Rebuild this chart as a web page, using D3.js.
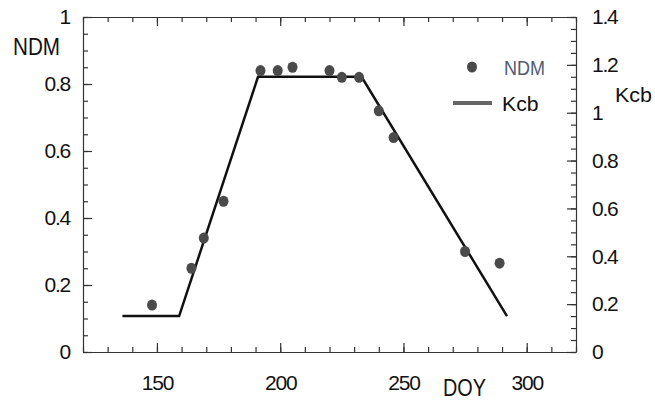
<!DOCTYPE html>
<html>
<head>
<meta charset="utf-8">
<title></title>
<style>
  body { margin: 0; background: #fff; }
  text { font-family: "Liberation Sans", Arial, sans-serif; fill: #111; }
  .axis path, .axis line { stroke: #333; stroke-width: 1.2px; }
  .axis text { font-size: 21px; letter-spacing: -1.2px; fill: #111; }
</style>
</head>
<body>
<script src="https://cdn.jsdelivr.net/npm/d3@7"></script>
<script>
// measured NDM points
var ndmDoy = [148, 164, 169, 177, 192, 199, 205, 220, 225, 232, 240, 246, 275, 289];
var ndmVal = [0.14, 0.25, 0.34, 0.45, 0.84, 0.84, 0.85, 0.84, 0.82, 0.82, 0.72, 0.64, 0.30, 0.265];
// Kcb crop curve (right axis)
var kcbDoy = [136, 159, 191, 233, 292];
var kcbVal = [0.15, 0.15, 1.15, 1.15, 0.15];

var xTicks = [150, 200, 250, 300];
var xMinor = d3.range(120, 321, 10);
var ndmTicks = [0, 0.2, 0.4, 0.6, 0.8, 1];
var kcbTicks = [0, 0.2, 0.4, 0.6, 0.8, 1, 1.2, 1.4];

var width = 655, height = 400;
var padL = 83, padR = 576, padT = 17, padB = 352;

var svg = d3.select("body").append("svg")
    .attr("width", width)
    .attr("height", height);

var x = d3.scaleLinear().domain([120, 320]).range([padL, padR]);
var y = d3.scaleLinear().domain([0, 1]).range([padB, padT]);
var yK = d3.scaleLinear().domain([0, 1.4]).range([padB, padT]);

var fmt = d3.format(".1~f");

// minor ticks first
svg.append("g").attr("class", "axis").attr("transform", "translate(0," + padB + ")")
    .call(d3.axisBottom(x).tickValues(xMinor).tickSize(-5).tickSizeOuter(0).tickFormat(""))
    .select(".domain").remove();
svg.append("g").attr("class", "axis").attr("transform", "translate(0," + padT + ")")
    .call(d3.axisTop(x).tickValues(xMinor).tickSize(-5).tickSizeOuter(0).tickFormat(""))
    .select(".domain").remove();
svg.append("g").attr("class", "axis").attr("transform", "translate(" + padL + ",0)")
    .call(d3.axisLeft(y).tickValues(d3.range(0, 1.001, 0.05)).tickSize(-5).tickSizeOuter(0).tickFormat(""))
    .select(".domain").remove();
svg.append("g").attr("class", "axis").attr("transform", "translate(" + padR + ",0)")
    .call(d3.axisRight(yK).tickValues(d3.range(0, 1.401, 0.05)).tickSize(-5).tickSizeOuter(0).tickFormat(""))
    .select(".domain").remove();

// major axes
svg.append("g").attr("class", "axis").attr("transform", "translate(0," + padB + ")")
    .call(d3.axisBottom(x).tickValues(xTicks).tickSize(-9).tickSizeOuter(0).tickPadding(23));
svg.append("g").attr("class", "axis").attr("transform", "translate(0," + padT + ")")
    .call(d3.axisTop(x).tickValues(xTicks).tickSize(-9).tickSizeOuter(0).tickFormat(""));
svg.append("g").attr("class", "axis").attr("transform", "translate(" + padL + ",0)")
    .call(d3.axisLeft(y).tickValues(ndmTicks).tickSize(-9).tickSizeOuter(0).tickPadding(13).tickFormat(fmt));
svg.append("g").attr("class", "axis").attr("transform", "translate(" + padR + ",0)")
    .call(d3.axisRight(yK).tickValues(kcbTicks).tickSize(-9).tickSizeOuter(0).tickPadding(16).tickFormat(fmt));

// Kcb line
var line = d3.line()
    .x(function(d, i) { return x(kcbDoy[i]); })
    .y(function(d) { return yK(d); });
svg.append("path")
    .datum(kcbVal)
    .attr("fill", "none")
    .attr("stroke", "#111")
    .attr("stroke-width", 2.5)
    .attr("d", line);

// NDM dots
svg.append("g").selectAll("ellipse")
    .data(ndmVal)
    .enter()
    .append("ellipse")
    .attr("cx", function(d, i) { return x(ndmDoy[i]); })
    .attr("cy", function(d) { return y(d); })
    .attr("rx", 5)
    .attr("ry", 5.5)
    .attr("fill", "#4a4a4a");

// squeezed titles like the original
function label(tx, ty, size, len, txt, col) {
    svg.append("text").attr("x", tx).attr("y", ty)
        .attr("font-size", size + "px")
        .attr("textLength", len).attr("lengthAdjust", "spacingAndGlyphs")
        .style("fill", col || "#111")
        .text(txt);
}
label(13, 55, 24, 47, "NDM");
label(615, 101.5, 21, 37, "Kcb");
label(443, 396, 23, 43, "DOY");

// legend
svg.append("ellipse").attr("cx", 472).attr("cy", 67).attr("rx", 5).attr("ry", 5.5).attr("fill", "#4a4a4a");
label(504, 75, 21, 41, "NDM", "#4f5d70");
svg.append("line").attr("x1", 453).attr("x2", 492).attr("y1", 103).attr("y2", 103)
    .attr("stroke", "#666").attr("stroke-width", 4);
label(502, 111, 21, 36.5, "Kcb");
</script>
</body>
</html>
